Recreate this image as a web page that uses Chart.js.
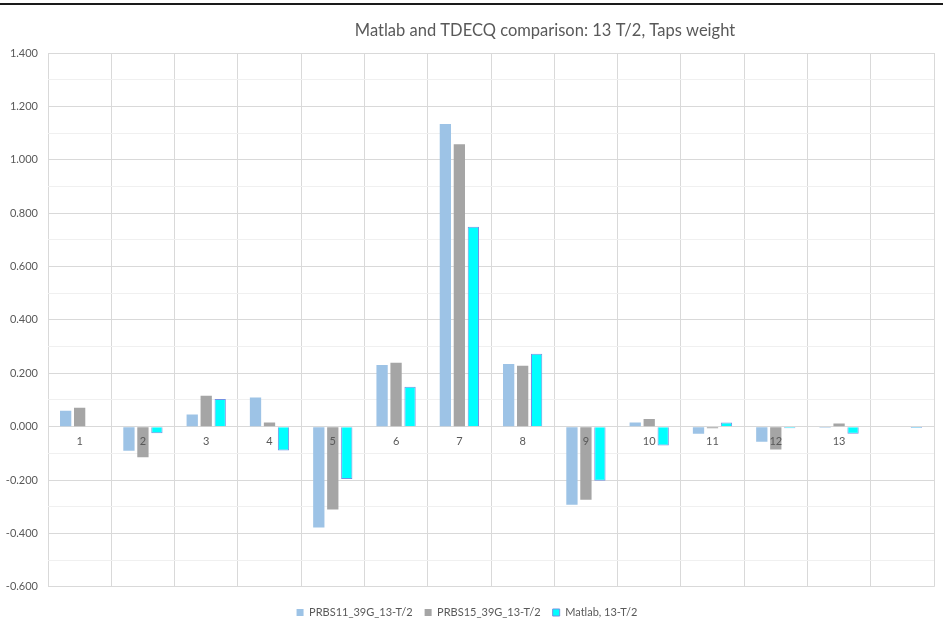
<!DOCTYPE html>
<html>
<head>
<meta charset="utf-8">
<script src="https://cdn.jsdelivr.net/npm/chart.js@4/dist/chart.umd.min.js"></script>
<style>
  html, body { margin: 0; padding: 0; background: #fff; }
  #wrap { width: 943px; height: 630px; }
</style>
</head>
<body>
<div id="wrap"><canvas id="chart1" width="943" height="630"></canvas></div>
<script>
// data
const taps = ["1", "2", "3", "4", "5", "6", "7", "8", "9", "10", "11", "12", "13", ""];
const prbs11 = [0.060, -0.090, 0.046, 0.109, -0.378, 0.231, 1.134, 0.235, -0.293, 0.016, -0.027, -0.057, -0.004, null];
const prbs15 = [0.071, -0.115, 0.116, 0.016, -0.310, 0.239, 1.058, 0.228, -0.274, 0.029, -0.006, -0.086, 0.012, null];
const matlab = [null, -0.025, 0.104, -0.089, -0.196, 0.150, 0.749, 0.273, -0.203, -0.071, 0.016, -0.006, -0.027, -0.005];
const seriesNames = ["PRBS11_39G_13-T/2", "PRBS15_39G_13-T/2", "Matlab, 13-T/2"];
const titleText = "Matlab and TDECQ comparison: 13 T/2, Taps weight";

const textColor = "#595959";
const fontFamily = "Lato, 'Liberation Sans', sans-serif";

// title + the black rule across the top
const decor = {
    id: "decor",
    beforeDraw(chart) {
        const ctx = chart.ctx;
        ctx.save();
        ctx.fillStyle = "#fff";
        ctx.fillRect(0, 0, chart.width, chart.height);
        ctx.fillStyle = "#1a1a1a";
        ctx.fillRect(0, 3, chart.width, 2);
        ctx.fillStyle = textColor;
        ctx.font = "16.5px " + fontFamily;
        ctx.textAlign = "center";
        ctx.textBaseline = "middle";
        ctx.fillText(titleText, 545, 31);
        ctx.restore();
    }
};

let ctx1 = document.getElementById("chart1").getContext("2d");
new Chart(ctx1, {
    type: "bar",
    data: {
        labels: taps,
        datasets: [{
            label: seriesNames[0],
            data: prbs11,
            backgroundColor: "#9DC3E6",
            borderWidth: 0
        }, {
            label: seriesNames[1],
            data: prbs15,
            backgroundColor: "#A5A5A5",
            borderWidth: 0
        }, {
            label: seriesNames[2],
            data: matlab,
            backgroundColor: "#00FFFF",
            borderColor: "#7391E3",
            borderWidth: 1
        }]
    },
    options: {
        responsive: false,
        animation: false,
        categoryPercentage: 0.663,
        barPercentage: 0.807,
        layout: { padding: { top: 53, right: 9, left: 0, bottom: 2 } },
        plugins: {
            title: { display: false },
            tooltip: { enabled: false },
            legend: {
                position: "bottom",
                // empty title only used as a spacer above the legend row
                title: { display: true, text: " ", font: { size: 1 }, padding: { top: 0, bottom: 7 } },
                labels: {
                    boxWidth: 7,
                    boxHeight: 7,
                    padding: 12,
                    color: textColor,
                    font: { family: fontFamily, size: 11 }
                }
            }
        },
        scales: {
            x: {
                position: { y: 0 },
                grid: { color: "#D9D9D9", drawTicks: false, offset: true },
                border: { color: "#D9D9D9" },
                ticks: {
                    z: 1,
                    color: textColor,
                    padding: 8,
                    font: { family: fontFamily, size: 11 }
                }
            },
            y: {
                min: -0.6,
                max: 1.4,
                afterFit: function (scale) { scale.width = 48; },
                ticks: {
                    stepSize: 0.1,
                    padding: 10,
                    color: textColor,
                    font: { family: fontFamily, size: 11 },
                    callback: function (v) {
                        const r = Math.round(v * 10);
                        return r % 2 === 0 ? (r / 10).toFixed(3) : "";
                    }
                },
                grid: {
                    drawTicks: false,
                    color: function (c) {
                        const r = Math.round(c.tick.value * 10);
                        return r % 2 === 0 ? "#D9D9D9" : "#F0F0F0";
                    }
                },
                border: { display: false }
            }
        }
    },
    plugins: [decor]
});
</script>
</body>
</html>
